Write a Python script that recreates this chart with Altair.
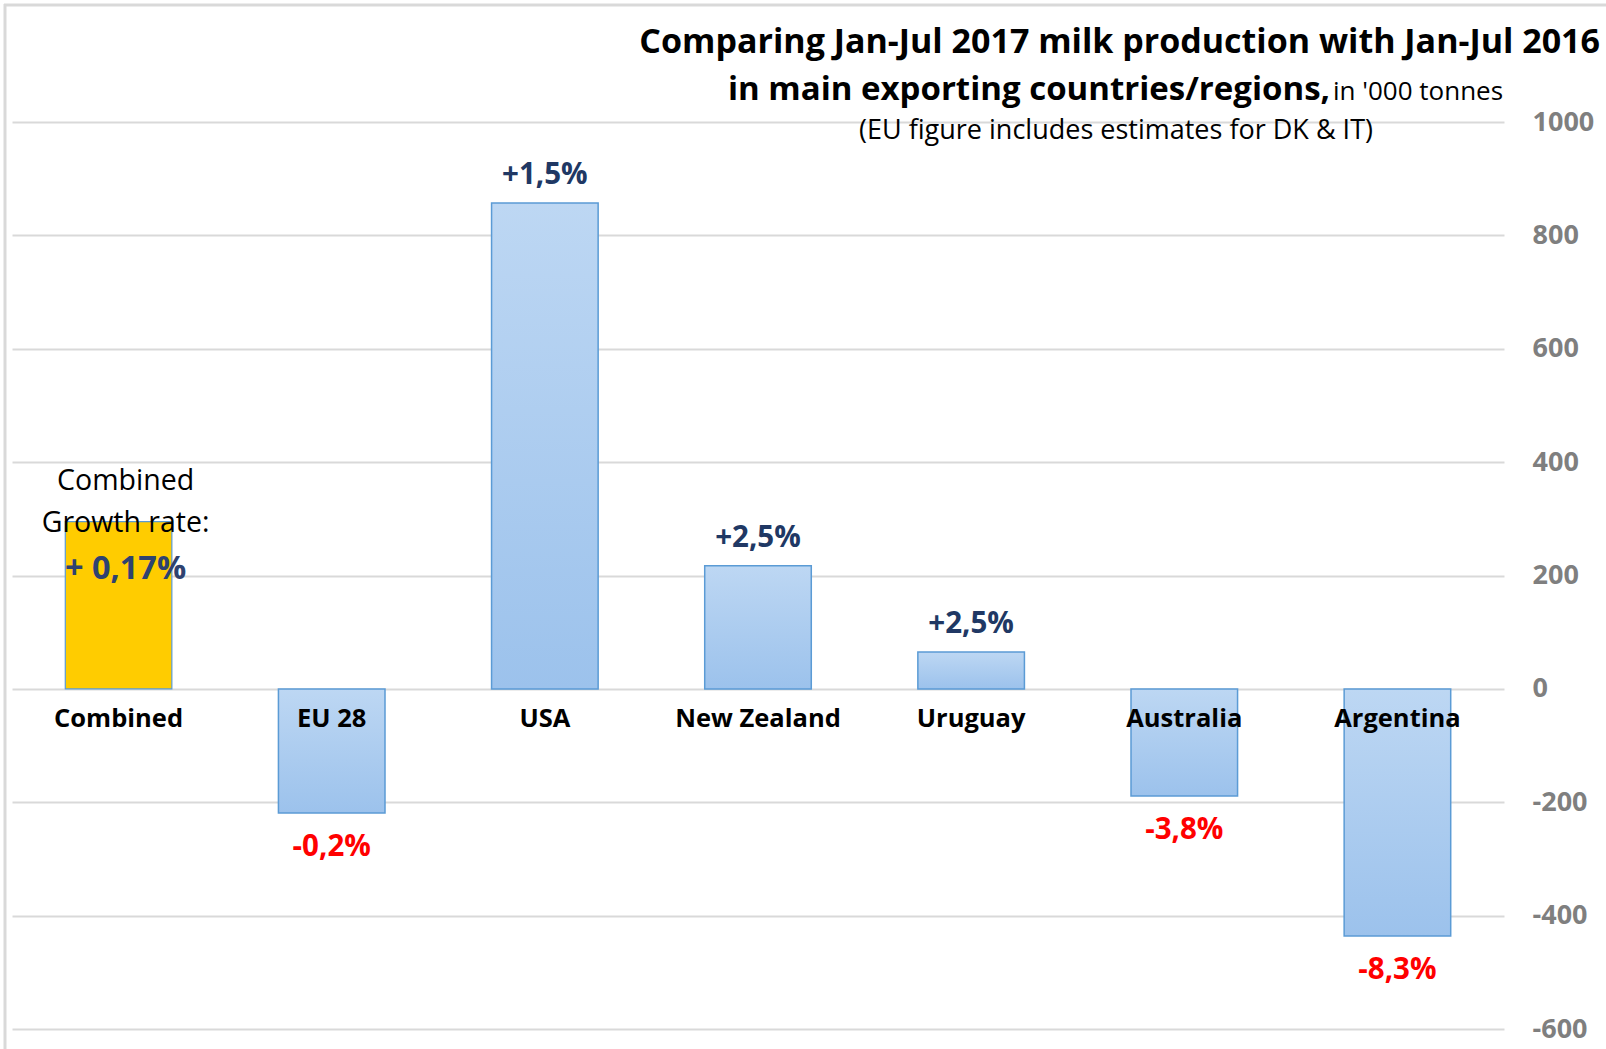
import altair as alt
import pandas as pd

# ---- data ----
categories = ["Combined", "EU 28", "USA", "New Zealand", "Uruguay", "Australia", "Argentina"]
values = [295, -219, 857, 217, 65, -189, -436]
change_labels = ["", "-0,2%", "+1,5%", "+2,5%", "+2,5%", "-3,8%", "-8,3%"]
y_ticks = [-600, -400, -200, 0, 200, 400, 600, 800, 1000]

title_line1 = "Comparing Jan-Jul 2017 milk production with Jan-Jul 2016"
title_line2_bold = "in main exporting countries/regions,"
title_line2_unit = "in '000 tonnes"
subtitle = "(EU figure includes estimates for DK & IT)"
combined_note = ["Combined", "Growth rate:"]
combined_rate = "+ 0,17%"

df = pd.DataFrame({"country": categories, "value": values, "change": change_labels})
one = pd.DataFrame({"k": [0]})

FONT = "Open Sans"
W, H = 1492, 907

x_enc = alt.X("country:N", sort=categories,
              scale=alt.Scale(paddingInner=0.5, paddingOuter=0.25), axis=None)
y_scale = alt.Scale(domain=[-600, 1000], nice=False, zero=False)
AXIS = alt.Axis(orient="right", values=y_ticks, title=None, ticks=False, domain=False,
                grid=True, gridColor="#D9D9D9", gridWidth=2,
                labelExpr="'' + datum.value",
                labelFont=FONT, labelFontSize=27, labelFontWeight="bold",
                labelColor="#7F7F7F", labelPadding=28, labelAlign="left",
                labelBaseline="middle")


def y_val():
    return alt.Y("value:Q", scale=y_scale, axis=AXIS)


grad = alt.Gradient(
    gradient="linear",
    stops=[alt.GradientStop(color="#BDD7F3", offset=0),
           alt.GradientStop(color="#9CC2EC", offset=1)],
    x1=0, x2=0, y1=0, y2=1,
)

base = alt.Chart(df)

blue_bars = base.transform_filter(alt.datum.country != "Combined").mark_bar(
    color=grad, stroke="#5B9BD5", strokeWidth=1.5
).encode(x=x_enc, y=y_val())

gold_bar = base.transform_filter(alt.datum.country == "Combined").mark_bar(
    color="#FFCC00", stroke="#5B9BD5", strokeWidth=1.2
).encode(x=x_enc, y=y_val())

pos_labels = base.transform_filter("datum.value > 0 && datum.change != ''").mark_text(
    dy=-28, fontSize=29.5, fontWeight="bold", color="#203864", font=FONT, baseline="middle"
).encode(x=x_enc, y=y_val(), text="change:N")

neg_labels = base.transform_filter("datum.value < 0").mark_text(
    dy=34, fontSize=29.5, fontWeight="bold", color="#FF0000", font=FONT, baseline="middle"
).encode(x=x_enc, y=y_val(), text="change:N")

cat_labels = base.mark_text(
    dy=30, fontSize=25.5, fontWeight="bold", color="#000000", font=FONT, baseline="middle"
).encode(x=x_enc, y=alt.YDatum(0, scale=y_scale, axis=AXIS), text="country:N")

comb = base.transform_filter(alt.datum.country == "Combined")
note1 = comb.mark_text(text=combined_note[0], dx=7, fontSize=28.5, color="#000000",
                       font=FONT, baseline="middle").encode(x=x_enc, y=alt.value(359))
note2 = comb.mark_text(text=combined_note[1], dx=7, fontSize=28.5, color="#000000",
                       font=FONT, baseline="middle").encode(x=x_enc, y=alt.value(401))
note3 = comb.mark_text(text=combined_rate, dx=7, fontSize=32.5, fontWeight="bold",
                       color="#2E4270", font=FONT, baseline="middle").encode(x=x_enc, y=alt.value(447))

t1 = alt.Chart(one).mark_text(text=title_line1, fontSize=34, fontWeight="bold", font=FONT,
                              align="right", baseline="alphabetic", color="#000000"
                              ).encode(x=alt.value(1588), y=alt.value(-69))
t2 = alt.Chart(one).mark_text(text=title_line2_bold, fontSize=33, fontWeight="bold", font=FONT,
                              align="right", baseline="alphabetic", color="#000000"
                              ).encode(x=alt.value(1318), y=alt.value(-22))
t3 = alt.Chart(one).mark_text(text=title_line2_unit, fontSize=26, font=FONT,
                              align="left", baseline="alphabetic", color="#000000"
                              ).encode(x=alt.value(1321), y=alt.value(-22))
t4 = alt.Chart(one).mark_text(text=subtitle, fontSize=27, font=FONT,
                              align="center", baseline="alphabetic", color="#000000"
                              ).encode(x=alt.value(1104), y=alt.value(17))

border_v = alt.Chart(one).mark_rule(color="#D9D9D9", strokeWidth=3).encode(
    x=alt.value(-7), y=alt.value(-118), y2=alt.value(H + 25))
border_h = alt.Chart(one).mark_rule(color="#D9D9D9", strokeWidth=3).encode(
    y=alt.value(-117), x=alt.value(-8), x2=alt.value(1600))

chart = alt.layer(
    blue_bars, gold_bar, pos_labels, neg_labels, cat_labels,
    note1, note2, note3, t1, t2, t3, t4, border_v, border_h
).properties(
    width=W, height=H,
    autosize=alt.AutoSizeParams(type="none"),
    padding={"left": 12, "top": 122, "right": 102, "bottom": 20},
    background="#FFFFFF",
).configure_view(stroke=None)

chart.save("out.html", embed_options={"renderer": "svg", "actions": False})
